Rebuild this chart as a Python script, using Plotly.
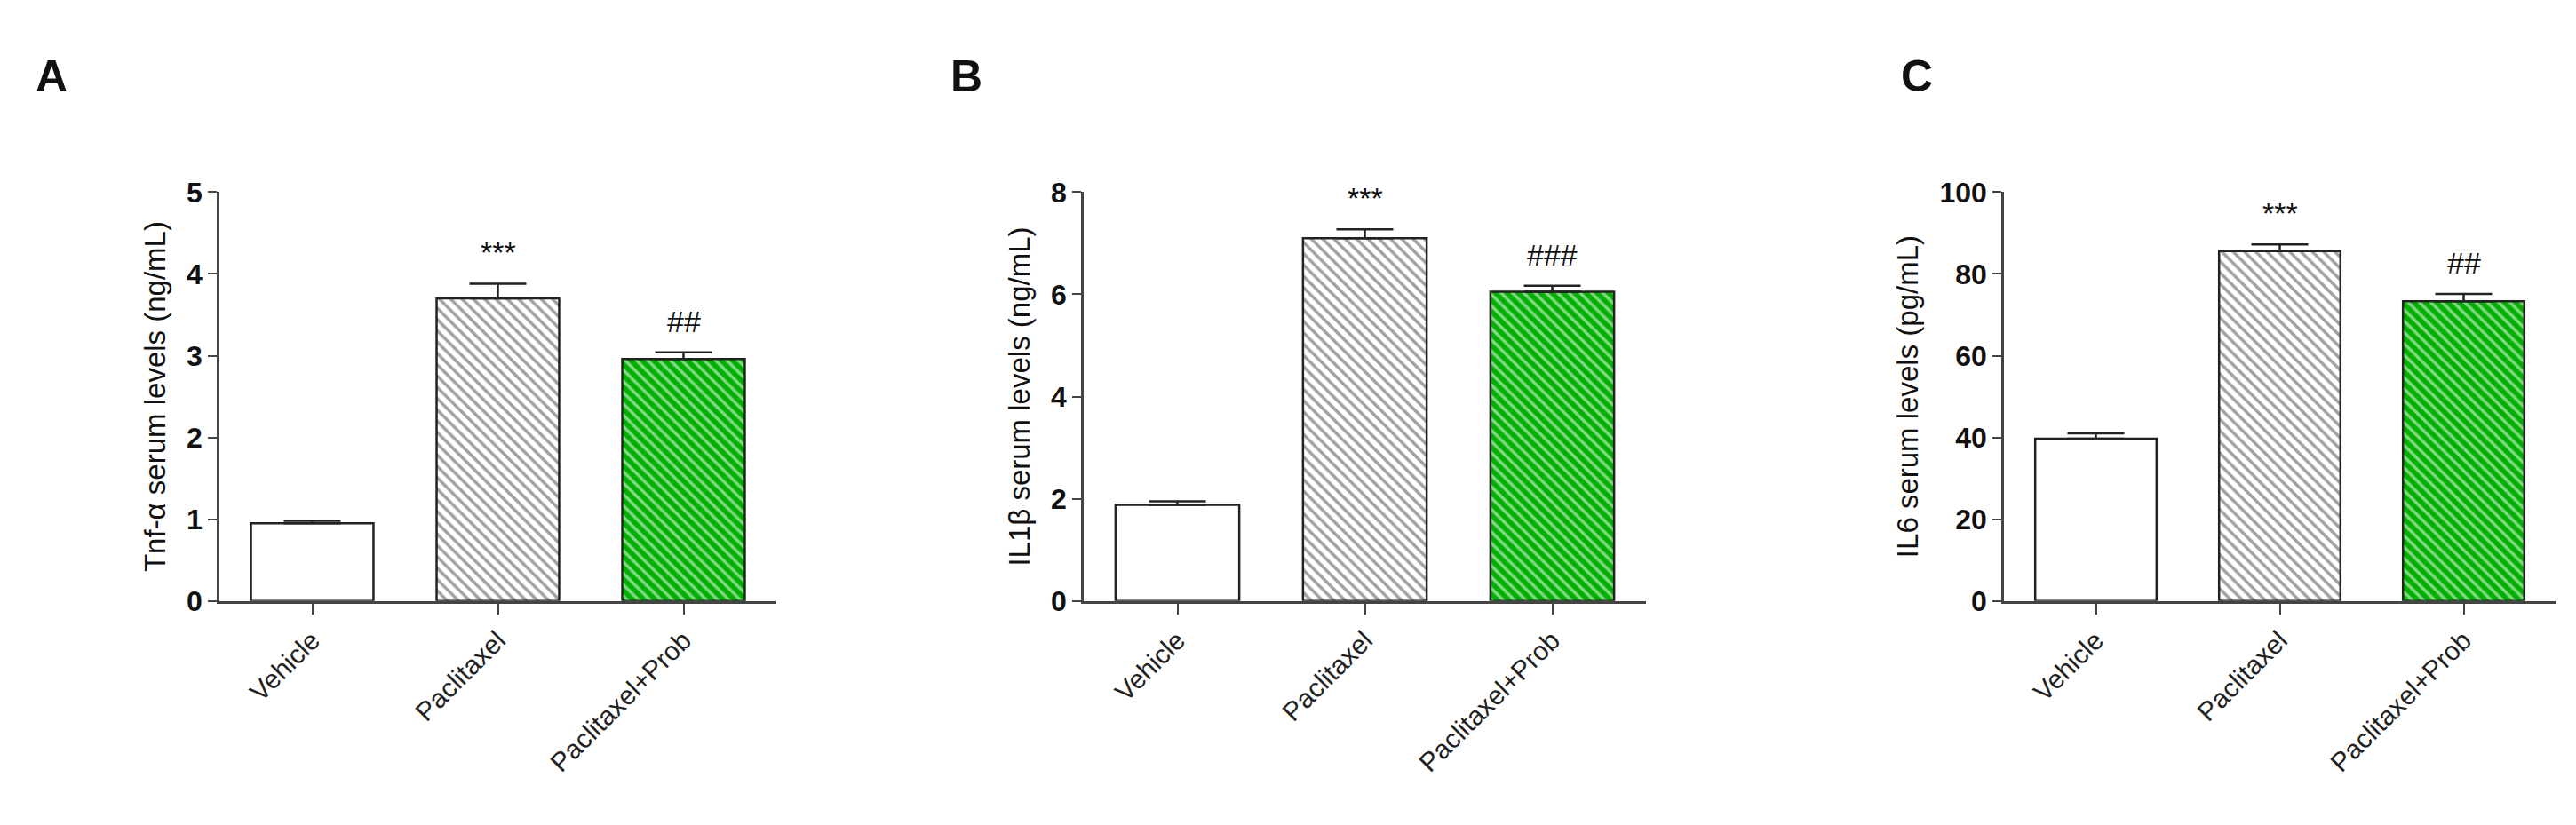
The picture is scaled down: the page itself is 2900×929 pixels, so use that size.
import plotly.graph_objects as go

categories = ["Vehicle", "Paclitaxel", "Paclitaxel+Prob"]
tnf_values = [0.95, 3.70, 2.96]
tnf_err = [0.03, 0.18, 0.08]
il1b_values = [1.88, 7.10, 6.05]
il1b_err = [0.07, 0.17, 0.12]
il6_values = [39.7, 85.6, 73.3]
il6_err = [1.3, 1.6, 1.8]
tnf_sig = ["", "***", "##"]
il1b_sig = ["", "***", "###"]
il6_sig = ["", "***", "##"]

panels = [
    ("A", tnf_values, tnf_err, tnf_sig, [0, 5], 1, "Tnf-α serum levels (ng/mL)"),
    ("B", il1b_values, il1b_err, il1b_sig, [0, 8], 2, "IL1β serum levels (ng/mL)"),
    ("C", il6_values, il6_err, il6_sig, [0, 100], 20, "IL6 serum levels (pg/mL)"),
]
W, H = 2900, 929
xdomains = [(239, 866), (1212, 1845), (2248, 2869)]
letter_x = [50, 1080, 2150]
ydom = [(929 - 677) / H, (929 - 198) / H]

fig = go.Figure()
font = "Liberation Sans, Arial, sans-serif"
for i, (letter, vals, errs, sigs, yr, dt, title) in enumerate(panels):
    ax = "" if i == 0 else str(i + 1)
    fig.add_trace(go.Bar(
        x=categories, y=vals, width=0.66,
        marker=dict(
            color=["white", "white", "#00b000"],
            line=dict(color="#222", width=2.5),
            pattern=dict(shape=["", "\\", "\\"], fgcolor="#111", size=9, solidity=0.4),
        ),
        error_y=dict(type="data", array=errs, arrayminus=[0, 0, 0], symmetric=False,
                     color="#222", thickness=2.5, width=32),
        xaxis="x" + ax, yaxis="y" + ax, showlegend=False,
    ))
    d0, d1 = xdomains[i]
    fig.update_layout(**{
        "xaxis" + ax: dict(domain=[d0 / W, d1 / W], range=[-0.5, 2.5], anchor="y" + ax,
                           showline=True, linecolor="#444", linewidth=2.5, ticks="outside",
                           ticklen=12, tickwidth=2, tickcolor="#444", tickangle=-45,
                           tickfont=dict(size=30, family=font, color="#222"), showgrid=False),
        "yaxis" + ax: dict(domain=ydom, range=yr, dtick=dt, anchor="x" + ax,
                           showline=True, linecolor="#444", linewidth=2.5, ticks="outside",
                           ticklen=10, tickwidth=2, tickcolor="#444", showgrid=False, zeroline=False,
                           tickfont=dict(size=32, family=font, color="#111", weight="bold"),
                           title=dict(text=title, font=dict(size=33, family=font, color="#111"), standoff=14)),
    })
    for c, v, e, s in zip(categories, vals, errs, sigs):
        if s:
            fig.add_annotation(x=c, y=v + e, xref="x" + ax, yref="y" + ax, text=s,
                               showarrow=False, yanchor="bottom", yshift=14,
                               font=dict(size=34, family=font, color="#111"))
    fig.add_annotation(x=letter_x[i] / W, y=1 - 62 / H, xref="paper", yref="paper", text=letter,
                       showarrow=False, xanchor="center", yanchor="middle",
                       font=dict(size=50, family=font, color="#111", weight="bold"))

fig.update_layout(width=W, height=H, margin=dict(l=0, r=0, t=0, b=0),
                  plot_bgcolor="white", paper_bgcolor="white")
fig.write_html("out.html")
